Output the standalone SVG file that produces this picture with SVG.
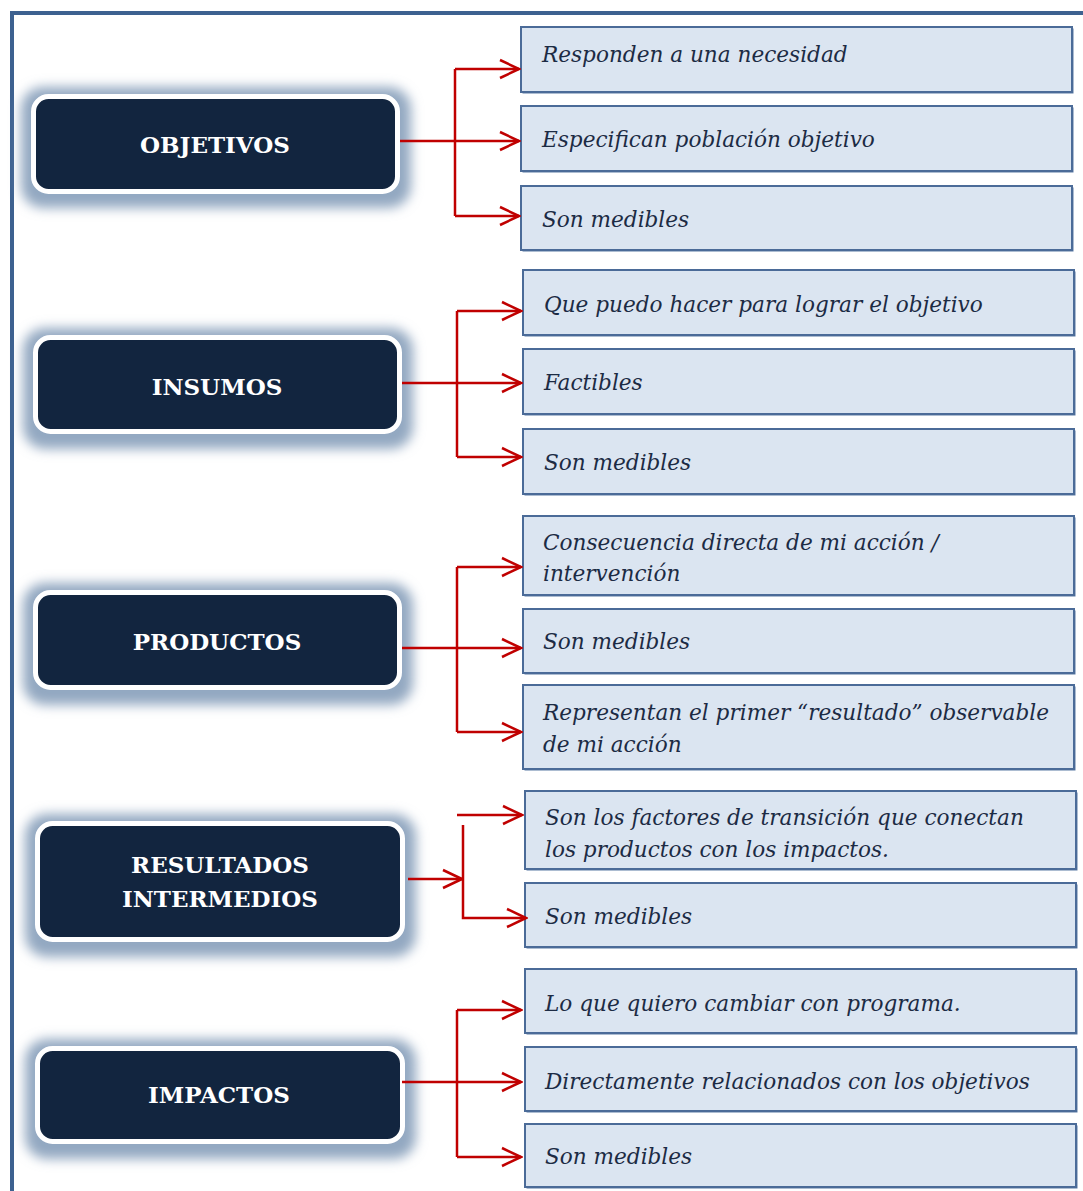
<svg xmlns="http://www.w3.org/2000/svg" width="1083" height="1191" viewBox="0 0 1083 1191">
  <defs>
    <style>
      .frame { fill: none; stroke: #3d6190; stroke-width: 4; }
      .glow { fill: #93a8c1; filter: url(#blur); }
      .node { fill: #12253f; stroke: #ffffff; stroke-width: 5; }
      .nlabel { font-family: "DejaVu Serif", "Liberation Serif", serif; font-weight: bold; font-size: 23px; fill: #ffffff; text-anchor: middle; }
      .shadow { fill: #5b7aa3; }
      .box { fill: #dbe5f1; stroke: #4b6b98; stroke-width: 2; }
      .txt { font-family: "DejaVu Serif", "Liberation Serif", serif; font-style: italic; font-size: 21.6px; fill: #1c2b44; }
      .link { fill: none; stroke: #c00000; stroke-width: 2.5; }
    </style>
    <filter id="blur" x="-20%" y="-30%" width="140%" height="160%">
      <feGaussianBlur stdDeviation="6"/>
    </filter>
    <marker id="arrow" markerUnits="userSpaceOnUse" markerWidth="23" markerHeight="22" refX="21" refY="11" orient="auto">
      <path d="M2,2 L21,11 L2,20" fill="none" stroke="#c00000" stroke-width="2.5"/>
    </marker>
  </defs>

  <rect x="0" y="0" width="1083" height="1191" fill="#ffffff"/>
  <!-- outer frame, open towards the right and bottom edges -->
  <rect class="frame" x="12" y="13" width="1100" height="1200"/>

  <!-- category nodes -->
  <g id="node-objetivos">
    <rect class="glow" x="21" y="87" width="390" height="121" rx="22"/>
    <rect class="node" x="33.5" y="96.5" width="364" height="95" rx="15"/>
    <text class="nlabel" x="215" y="153">OBJETIVOS</text>
  </g>
  <g id="node-insumos">
    <rect class="glow" x="23" y="328" width="390" height="121" rx="22"/>
    <rect class="node" x="35.5" y="337.5" width="364" height="94" rx="15"/>
    <text class="nlabel" x="217" y="395">INSUMOS</text>
  </g>
  <g id="node-productos">
    <rect class="glow" x="23" y="583" width="390" height="122" rx="22"/>
    <rect class="node" x="35.5" y="592.5" width="364" height="95" rx="15"/>
    <text class="nlabel" x="217" y="650">PRODUCTOS</text>
  </g>
  <g id="node-resultados">
    <rect class="glow" x="25" y="814" width="391" height="143" rx="22"/>
    <rect class="node" x="37.5" y="823.5" width="365" height="116" rx="15"/>
    <text class="nlabel" x="220" y="873">RESULTADOS</text>
    <text class="nlabel" x="220" y="907">INTERMEDIOS</text>
  </g>
  <g id="node-impactos">
    <rect class="glow" x="25" y="1039" width="391" height="120" rx="22"/>
    <rect class="node" x="37.5" y="1048.5" width="365" height="93" rx="15"/>
    <text class="nlabel" x="219" y="1103">IMPACTOS</text>
  </g>

  <!-- description boxes -->
  <g id="box-obj-1">
    <rect class="shadow" x="522.5" y="28.5" width="551" height="65"/>
    <rect class="box" x="521" y="27" width="551" height="65"/>
    <text class="txt" x="542" y="62">Responden a una necesidad</text>
  </g>
  <g id="box-obj-2">
    <rect class="shadow" x="522.5" y="107.5" width="551" height="65"/>
    <rect class="box" x="521" y="106" width="551" height="65"/>
    <text class="txt" x="542" y="147">Especifican población objetivo</text>
  </g>
  <g id="box-obj-3">
    <rect class="shadow" x="522.5" y="187.5" width="551" height="64"/>
    <rect class="box" x="521" y="186" width="551" height="64"/>
    <text class="txt" x="542" y="227">Son medibles</text>
  </g>

  <g id="box-ins-1">
    <rect class="shadow" x="524.5" y="271.5" width="551" height="65"/>
    <rect class="box" x="523" y="270" width="551" height="65"/>
    <text class="txt" x="544" y="312">Que puedo hacer para lograr el objetivo</text>
  </g>
  <g id="box-ins-2">
    <rect class="shadow" x="524.5" y="350.5" width="551" height="65"/>
    <rect class="box" x="523" y="349" width="551" height="65"/>
    <text class="txt" x="544" y="390">Factibles</text>
  </g>
  <g id="box-ins-3">
    <rect class="shadow" x="524.5" y="430.5" width="551" height="65"/>
    <rect class="box" x="523" y="429" width="551" height="65"/>
    <text class="txt" x="544" y="470">Son medibles</text>
  </g>

  <g id="box-prod-1">
    <rect class="shadow" x="524.5" y="517.5" width="551" height="79"/>
    <rect class="box" x="523" y="516" width="551" height="79"/>
    <text class="txt" x="543" y="550">Consecuencia directa de mi acción /</text>
    <text class="txt" x="543" y="581">intervención</text>
  </g>
  <g id="box-prod-2">
    <rect class="shadow" x="524.5" y="610.5" width="551" height="64"/>
    <rect class="box" x="523" y="609" width="551" height="64"/>
    <text class="txt" x="543" y="649">Son medibles</text>
  </g>
  <g id="box-prod-3">
    <rect class="shadow" x="524.5" y="686.5" width="551" height="84"/>
    <rect class="box" x="523" y="685" width="551" height="84"/>
    <text class="txt" x="543" y="720">Representan el primer “resultado” observable</text>
    <text class="txt" x="543" y="752">de mi acción</text>
  </g>

  <g id="box-res-1">
    <rect class="shadow" x="526.5" y="792.5" width="551" height="78"/>
    <rect class="box" x="525" y="791" width="551" height="78"/>
    <text class="txt" x="545" y="825">Son los factores de transición que conectan</text>
    <text class="txt" x="545" y="857">los productos con los impactos.</text>
  </g>
  <g id="box-res-2">
    <rect class="shadow" x="526.5" y="884.5" width="551" height="64"/>
    <rect class="box" x="525" y="883" width="551" height="64"/>
    <text class="txt" x="545" y="924">Son medibles</text>
  </g>

  <g id="box-imp-1">
    <rect class="shadow" x="526.5" y="970.5" width="551" height="64"/>
    <rect class="box" x="525" y="969" width="551" height="64"/>
    <text class="txt" x="545" y="1011">Lo que quiero cambiar con programa.</text>
  </g>
  <g id="box-imp-2">
    <rect class="shadow" x="526.5" y="1048.5" width="551" height="64"/>
    <rect class="box" x="525" y="1047" width="551" height="64"/>
    <text class="txt" x="545" y="1089">Directamente relacionados con los objetivos</text>
  </g>
  <g id="box-imp-3">
    <rect class="shadow" x="526.5" y="1125.5" width="551" height="63"/>
    <rect class="box" x="525" y="1124" width="551" height="63"/>
    <text class="txt" x="545" y="1164">Son medibles</text>
  </g>

  <!-- connectors -->
  <g id="connectors">
    <path class="link" d="M400,141 H455"/>
    <path class="link" d="M455,69 V216"/>
    <path class="link" d="M455,69 H519" marker-end="url(#arrow)"/>
    <path class="link" d="M455,141 H519" marker-end="url(#arrow)"/>
    <path class="link" d="M455,216 H519" marker-end="url(#arrow)"/>

    <path class="link" d="M402,383 H457"/>
    <path class="link" d="M457,311 V457"/>
    <path class="link" d="M457,311 H521" marker-end="url(#arrow)"/>
    <path class="link" d="M457,383 H521" marker-end="url(#arrow)"/>
    <path class="link" d="M457,457 H521" marker-end="url(#arrow)"/>

    <path class="link" d="M402,648 H457"/>
    <path class="link" d="M457,567 V732"/>
    <path class="link" d="M457,567 H521" marker-end="url(#arrow)"/>
    <path class="link" d="M457,648 H521" marker-end="url(#arrow)"/>
    <path class="link" d="M457,732 H521" marker-end="url(#arrow)"/>

    <path class="link" d="M408,879 H462" marker-end="url(#arrow)"/>
    <path class="link" d="M457,815 H522" marker-end="url(#arrow)"/>
    <path class="link" d="M463,825 V918 H526" marker-end="url(#arrow)"/>

    <path class="link" d="M402,1082 H457"/>
    <path class="link" d="M457,1010 V1157"/>
    <path class="link" d="M457,1010 H521" marker-end="url(#arrow)"/>
    <path class="link" d="M457,1082 H521" marker-end="url(#arrow)"/>
    <path class="link" d="M457,1157 H521" marker-end="url(#arrow)"/>
  </g>
</svg>
